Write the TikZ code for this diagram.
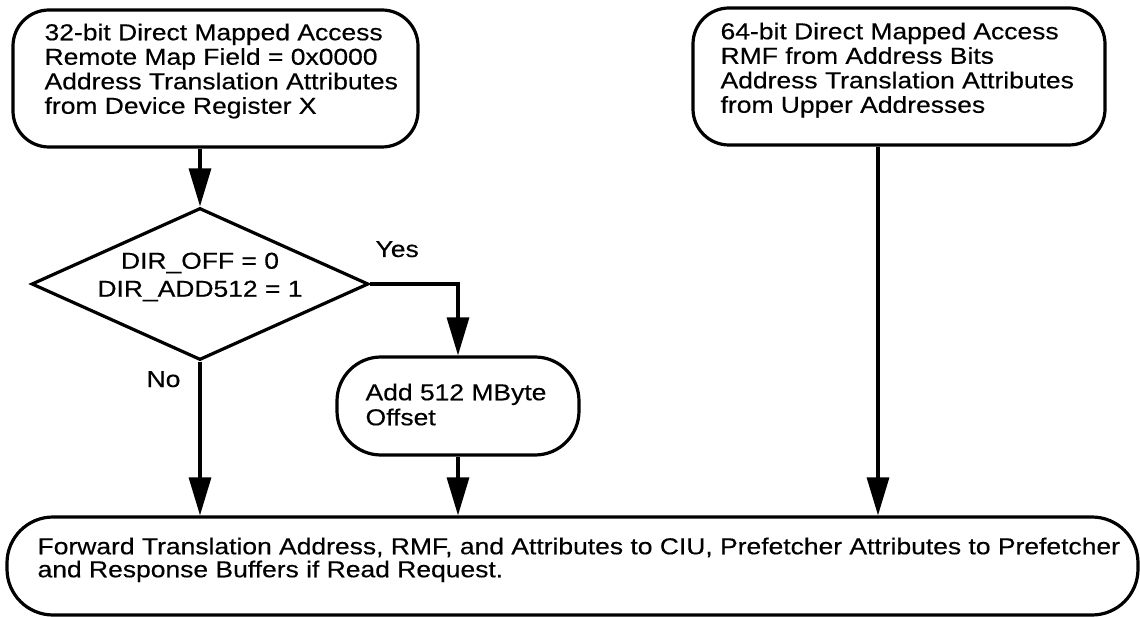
\documentclass[tikz,border=0pt]{standalone}
\usepackage{fontspec}
\setmainfont{Liberation Sans}[FakeStretch=1.15,FakeBold=0.4]
\usetikzlibrary{shapes.geometric,arrows.meta}
\begin{document}
\begin{tikzpicture}[x=1pt,y=-1pt,
  line width=3.2pt,
  boxshape/.style={draw, rectangle, rounded corners=36pt, inner sep=0pt},
  pillshape/.style={draw, rectangle, rounded corners=44pt, inner sep=0pt},
  txt/.style={inner sep=0pt, align=left, font=\fontsize{23}{24.5}\selectfont},
  lbl/.style={inner sep=0pt, font=\fontsize{23}{24}\selectfont},
  arr/.style={-{Triangle[length=38pt,width=22pt]}, line join=miter}
]
\useasboundingbox (0,0) rectangle (1140,617);

% boxes
\node[boxshape, minimum width=405pt, minimum height=137pt] (b1) at (215.5,78.5) {};
\node[boxshape, minimum width=412pt, minimum height=137pt] (b2) at (899,76.5) {};
\node[draw, diamond, minimum width=337pt, minimum height=152pt, inner sep=0pt] (dia) at (200,284) {};
\node[pillshape, minimum width=242pt, minimum height=98pt] (add) at (458,406) {};
\node[draw, rectangle, rounded corners=46pt, inner sep=0pt, minimum width=1131pt, minimum height=98pt] (bot) at (572.5,566) {};

% texts
\node[txt, anchor=north west] (t1) at (43,22) {32-bit Direct Mapped Access\\Remote Map Field = 0x0000\\Address Translation Attributes\\from Device Register X};
\node[txt, anchor=north west] (t2) at (719,21) {64-bit Direct Mapped Access\\RMF from Address Bits\\Address Translation Attributes\\from Upper Addresses};
\node[txt, align=center, font=\fontsize{23}{28}\selectfont, yshift=7pt] (tdia) at (dia.center) {DIR\_OFF = 0\\DIR\_ADD512 = 1};
\node[txt, anchor=north west, font=\fontsize{23}{25}\selectfont] (tadd) at (364,382) {Add 512 MByte\\Offset};
\node[txt, anchor=north west, font=\fontsize{23}{23}\selectfont] (tbot) at (36,536) {Forward Translation Address, RMF, and Attributes to CIU, Prefetcher Attributes to Prefetcher\\and Response Buffers if Read Request.};
\node[lbl, anchor=base west] (yes) at (374,257) {Yes};
\node[lbl, anchor=base west] (no) at (145,387) {No};

% connectors
\coordinate (b2out) at ([xshift=-21pt]b2.south);
\draw[arr] (dia.north |- b1.south) -- (dia.north);
\draw[arr] (dia.east) -| (add.north);
\draw[arr] (dia.south) -- (dia.south |- bot.north);
\draw[arr] (add.south) -- (add.south |- bot.north);
\draw[arr] (b2out) -- (b2out |- bot.north);
\end{tikzpicture}
\end{document}
